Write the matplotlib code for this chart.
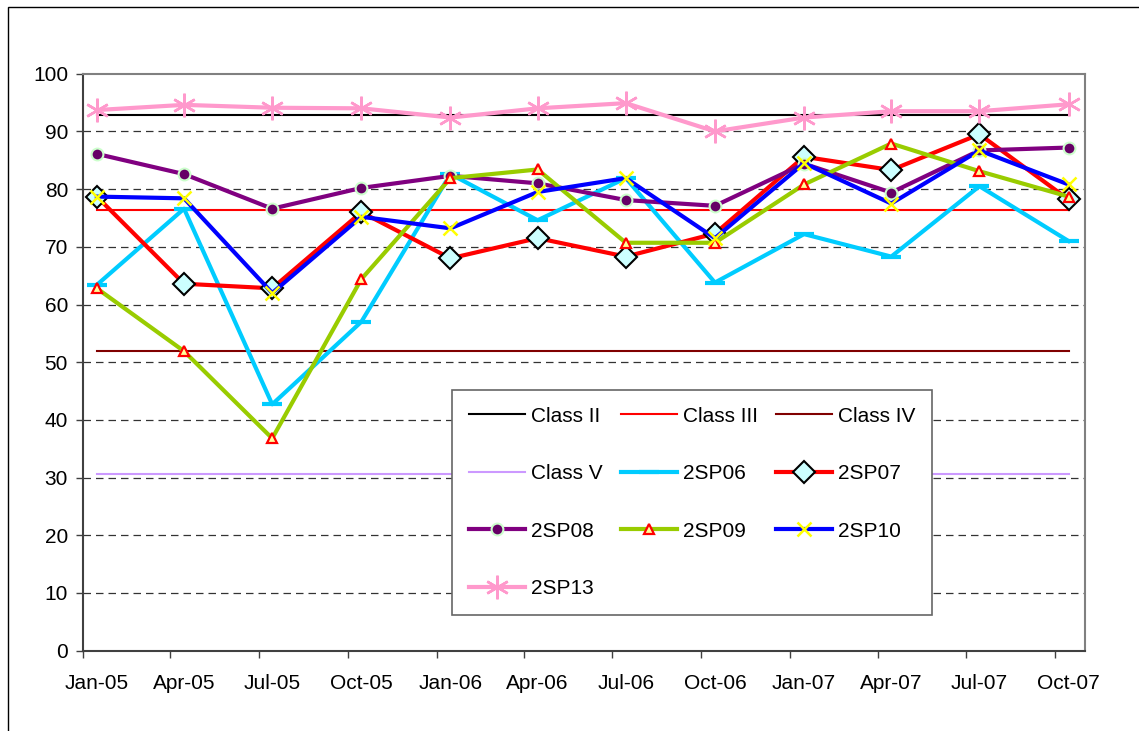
# %%

######################
## Import libraries ##
######################

import pandas as pd
import matplotlib
matplotlib.use('Agg')
import matplotlib.pyplot as plt
from matplotlib.patches import Rectangle

# %%

##########
## Data ##
##########

month_labels = ['Jan-05', 'Apr-05', 'Jul-05', 'Oct-05', 'Jan-06', 'Apr-06',
                'Jul-06', 'Oct-06', 'Jan-07', 'Apr-07', 'Jul-07', 'Oct-07']

# class limits (flat reference series)
class_ii = 92.8
class_iii = 76.4
class_iv = 51.9
class_v = 30.7

sp06 = [63.4, 76.6, 42.7, 57.0, 82.6, 74.6, 81.9, 63.8, 72.2, 68.3, 80.5, 71.0]
sp07 = [78.7, 63.6, 62.8, 76.0, 68.0, 71.5, 68.3, 72.3, 85.6, 83.3, 89.5, 78.2]
sp08 = [86.1, 82.6, 76.6, 80.2, 82.3, 81.0, 78.1, 77.1, 84.4, 79.4, 86.7, 87.2]
sp09 = [62.8, 51.9, 36.8, 64.4, 81.9, 83.4, 70.7, 70.7, 80.8, 87.9, 83.1, 78.7]
sp10 = [78.7, 78.4, 62.0, 75.2, 73.2, 79.5, 81.9, 71.5, 84.5, 77.5, 86.7, 80.8]
sp13 = [93.7, 94.6, 94.1, 94.0, 92.4, 94.0, 94.9, 90.0, 92.4, 93.5, 93.5, 94.7]

# %%

###########
## Setup ##
###########

plt.rcParams['font.family'] = ['Liberation Sans', 'DejaVu Sans']
plt.rcParams['font.size'] = 15

months = pd.to_datetime(month_labels, format='%b-%y')
dates = months + pd.Timedelta(days=14)
n = len(dates)

W, H = 1139, 731
fig = plt.figure(figsize=(W / 100, H / 100), dpi=100)
ax = fig.add_axes([83.3 / W, 1 - 650.7 / H, (1085 - 83.3) / W, (650.7 - 73.7) / H])

# outer chart border
fig.patches.append(Rectangle((8 / W, -0.1), 2, 1 - 7 / H + 0.1, transform=fig.transFigure,
                             fill=False, edgecolor='black', linewidth=1))

# dashed gridlines
yticks = list(range(0, 101, 10))
for v in yticks[1:-1]:
    ax.axhline(v, color='#333333', linewidth=0.9, dashes=(6, 4), zorder=0)

# %%

##########
## Plot ##
##########

lines = {}
lines['Class II'] = ax.plot(dates, [class_ii] * n, color='black', lw=1.5)[0]
lines['Class III'] = ax.plot(dates, [class_iii] * n, color='#FF0000', lw=1.5)[0]
lines['Class IV'] = ax.plot(dates, [class_iv] * n, color='#800000', lw=1.5)[0]
lines['Class V'] = ax.plot(dates, [class_v] * n, color='#CC99FF', lw=1.5)[0]

lines['2SP06'] = ax.plot(dates, sp06, color='#00CCFF', lw=3, marker='_', ms=15,
                         mew=3, mec='#00CCFF')[0]
lines['2SP07'] = ax.plot(dates, sp07, color='#FF0000', lw=3, marker='D', ms=11.5,
                         mfc='#CCFFFF', mec='black', mew=1.5)[0]
lines['2SP08'] = ax.plot(dates, sp08, color='#800080', lw=3, marker='o', ms=8.5,
                         mfc='#660066', mec='#CCFFCC', mew=1.5)[0]
lines['2SP09'] = ax.plot(dates, sp09, color='#99CC00', lw=3, marker='^', ms=6.5,
                         mfc='#FFFF99', mec='#FF0000', mew=1.6)[0]
lines['2SP10'] = ax.plot(dates, sp10, color='#0000FF', lw=3, marker='x', ms=10,
                         mec='#FFFF00', mew=1.8)[0]
lines['2SP13'] = ax.plot(dates, sp13, color='#FF99CC', lw=3, marker=(6, 2, 0), ms=17,
                         mec='#FF99CC', mew=1.8)[0]

# %%

##########
## Axes ##
##########

ax.set_ylim(0, 100)
ax.set_yticks(yticks)
ax.set_xlim(months[0], months[-1] + pd.offsets.MonthBegin(1))

ax.set_xticks(months)
ax.set_xticklabels([])
ax.set_xticks(dates, minor=True)
ax.set_xticklabels(month_labels, minor=True)

ax.tick_params(axis='x', which='major', direction='out', length=5, width=1, color='#404040')
ax.tick_params(axis='x', which='minor', length=0, pad=17, labelsize=15)
ax.tick_params(axis='y', direction='out', length=5, width=1, color='#404040', pad=6, labelsize=15)

for s in ['left', 'bottom']:
    ax.spines[s].set_color('#404040')
    ax.spines[s].set_linewidth(1.5)
for s in ['top', 'right']:
    ax.spines[s].set_color('#808080')
    ax.spines[s].set_linewidth(1.5)

# legend in excel row-major order -> column lists
order = ['Class II', 'Class V', '2SP08', '2SP13',
         'Class III', '2SP06', '2SP09',
         'Class IV', '2SP07', '2SP10']
leg = ax.legend([lines[k] for k in order], order, ncol=3, loc='upper left',
                bbox_to_anchor=(452 / W, 1 - 390 / H), bbox_transform=fig.transFigure,
                borderaxespad=0, fancybox=False, framealpha=1, edgecolor='#666666',
                fontsize=15, handlelength=2.7, handletextpad=0.3, columnspacing=0.85,
                labelspacing=1.85, borderpad=0.8)
leg.get_frame().set_linewidth(1.2)

fig.savefig('out.png', dpi=100)
